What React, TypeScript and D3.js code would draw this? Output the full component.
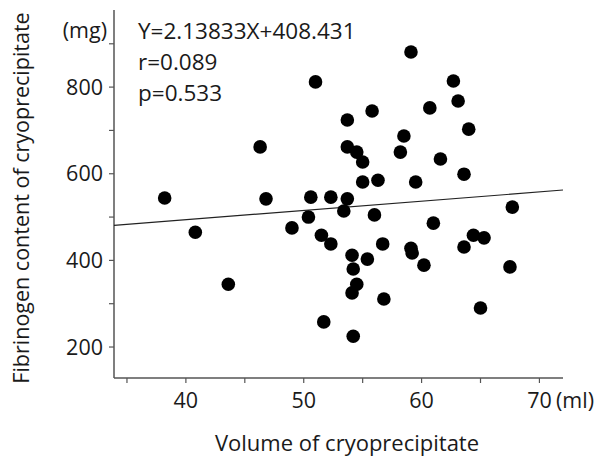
import { useMemo } from "react";
import * as d3 from "d3";

// volume of cryoprecipitate (ml) vs fibrinogen content (mg)
const volume = [
  38.2, 40.8, 43.6, 46.3, 46.8, 49.0, 50.6, 52.3, 53.7, 50.4,
  53.4, 56.0, 51.5, 52.3, 56.7, 54.1, 55.4, 54.2, 54.5, 54.1,
  56.8, 51.7, 54.2, 59.1, 59.2, 61.0, 60.2, 63.6, 64.4, 65.3,
  67.5, 65.0, 67.7, 59.1, 51.0, 62.7, 63.1, 60.7, 55.8, 53.7,
  64.0, 58.5, 53.7, 54.5, 55.0, 58.2, 61.6, 63.6, 55.0, 56.3,
  59.5,
];
const fibrinogen = [
  544, 465, 345, 662, 542, 475, 546, 546, 542, 500,
  514, 505, 458, 438, 438, 412, 403, 380, 345, 325,
  311, 258, 225, 428, 417, 486, 389, 431, 458, 452,
  385, 290, 523, 881, 812, 814, 768, 752, 745, 724,
  703, 687, 662, 650, 627, 650, 634, 599, 581, 585,
  581,
];

const slope = 2.13833;
const intercept = 408.431;

const xTicks = [40, 50, 60, 70];
const xMinorTicks = [35, 45, 55, 65];
const yTicks = [200, 400, 600, 800];
const yMinorTicks = [300, 500, 700, 900];

const statLines = ["Y=2.13833X+408.431", "r=0.089", "p=0.533"];

const width = 606;
const height = 457;
const font = "'Open Sans', 'Noto Sans', sans-serif";
const ink = "#1a1a1a";
const axisColor = "#555";

function App() {
  const x = useMemo(() => d3.scaleLinear().domain([33.9, 72]).range([114, 563]), []);
  const y = useMemo(() => d3.scaleLinear().domain([128.5, 978]).range([378, 10]), []);

  const [x0, x1] = x.domain();
  const fitLine = d3.line<number>()
    .x(d => x(d))
    .y(d => y(slope * d + intercept));

  const left = x.range()[0];
  const bottom = y.range()[0];

  return (
    <svg width={width} height={height} style={{ position: "absolute", left: 0, top: 0 }}
      fontFamily={font} fill={ink}>
      <rect width={width} height={height} fill="#fff" />

      {/* axes */}
      <line x1={left} x2={left} y1={y.range()[1]} y2={bottom} stroke={axisColor} strokeWidth={1.5} />
      <line x1={left} x2={x.range()[1]} y1={bottom} y2={bottom} stroke={axisColor} strokeWidth={1.5} />

      {[...yTicks, ...yMinorTicks].map(t => (
        <line key={"yt" + t} x1={left - 5} x2={left} y1={y(t)} y2={y(t)} stroke={axisColor} strokeWidth={1.2} />
      ))}
      {yTicks.map(t => (
        <text key={"yl" + t} x={103} y={y(t)} dy="0.35em" textAnchor="end" fontSize={21.5}>{t}</text>
      ))}
      <text x={107} y={30} dy="0.35em" textAnchor="end" fontSize={21.5}>(mg)</text>

      {[...xTicks, ...xMinorTicks].map(t => (
        <line key={"xt" + t} x1={x(t)} x2={x(t)} y1={bottom} y2={bottom + 5} stroke={axisColor} strokeWidth={1.2} />
      ))}
      {xTicks.map(t => (
        <text key={"xl" + t} x={x(t)} y={400} dy="0.35em" textAnchor="middle" fontSize={21.5}>{t}</text>
      ))}
      <text x={556} y={400} dy="0.35em" fontSize={21.5}>(ml)</text>

      <text x={347} y={451} textAnchor="middle" fontSize={22}>Volume of cryoprecipitate</text>
      <text transform="translate(29,198) rotate(-90)" textAnchor="middle" fontSize={21.5}>
        Fibrinogen content of cryoprecipitate
      </text>

      {/* regression line */}
      <path d={fitLine([x0, x1]) ?? ""} fill="none" stroke="#222" strokeWidth={1.1} />

      {volume.map((v, i) => (
        <circle key={i} cx={x(v)} cy={y(fibrinogen[i])} r={6.8} fill="#000" />
      ))}

      {statLines.map((s, i) => (
        <text key={s} x={138} y={31 + i * 31} dy="0.35em" fontSize={22.5}>{s}</text>
      ))}
    </svg>
  );
}

export default App;
